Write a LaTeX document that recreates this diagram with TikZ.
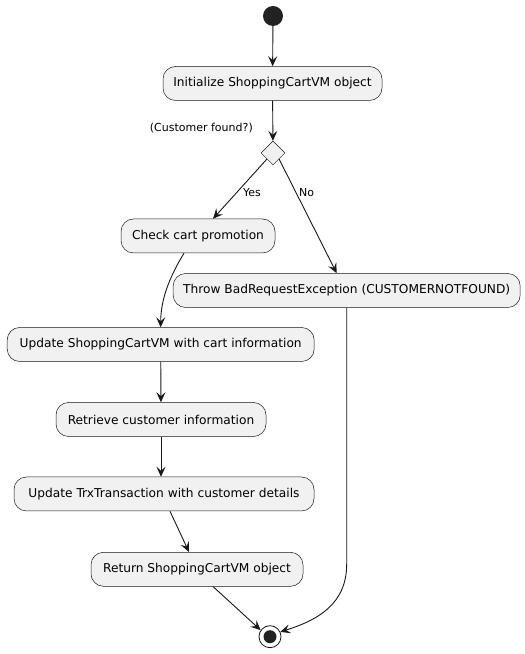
\documentclass[tikz,border=0pt]{standalone}
\usepackage{fontspec}
\setmainfont{DejaVu Sans}
\usetikzlibrary{arrows.meta,shapes.geometric,calc}
\definecolor{boxfill}{HTML}{F1F1F1}
\definecolor{boxline}{HTML}{181818}
\definecolor{dotfill}{HTML}{222222}
\tikzset{
  actbox/.style={draw=boxline,fill=boxfill,line width=0.5pt,rounded corners=12.5pt,
    minimum height=34pt,inner xsep=10pt,font=\fontsize{12.2}{14}\selectfont},
  arr/.style={draw=boxline,line width=0.9pt,-{Stealth[length=10pt,width=9pt,inset=4pt]}},
  lbl/.style={font=\fontsize{11}{13}\selectfont,inner sep=0pt}
}
\begin{document}
\begin{tikzpicture}[x=1pt,y=1pt]
\useasboundingbox (0,0) rectangle (525,654);
\node[circle,fill=dotfill,minimum size=20pt,inner sep=0pt] (start) at (273,638) {};
\node[actbox,minimum width=219pt] (init) at (272.5,570.5) {Initialize ShoppingCartVM object};
\node[diamond,draw=boxline,fill=boxfill,line width=0.5pt,minimum width=24pt,minimum height=24pt,inner sep=0pt] (dia) at (273,501) {};
\node[lbl,anchor=east] (cf) at (253,526) {(Customer found?)};
\node[actbox,minimum width=154pt] (check) at (198,418) {Check cart promotion};
\node[actbox,minimum width=347pt] (throw) at (346.7,363.5) {Throw BadRequestException (CUSTOMERNOTFOUND)};
\node[actbox,minimum width=307pt] (upd) at (160.7,309.5) {Update ShoppingCartVM with cart information};
\node[actbox,minimum width=210pt] (retr) at (161,234.5) {Retrieve customer information};
\node[actbox,minimum width=300pt] (trx) at (164,160) {Update TrxTransaction with customer details};
\node[actbox,minimum width=212pt] (ret) at (197,84.7) {Return ShoppingCartVM object};
\node[circle,draw=boxline,fill=white,line width=0.8pt,minimum size=22pt,inner sep=0pt] (endo) at (270,17.3) {};
\node[circle,fill=dotfill,minimum size=13pt,inner sep=0pt] (endi) at (endo) {};
\node[lbl,anchor=west] (yes) at (243,461) {Yes};
\node[lbl,anchor=west] (no) at (299,461) {No};
\coordinate (bend) at (346.7,90);
\draw[arr] (start) -- (init);
\draw[arr] (init) -- (dia);
\draw[arr] (dia.south west) -- ($(check.north)+(15,0)$);
\draw[arr] (dia.south east) -- ($(throw.north)+(-10,0)$);
\draw[arr] ($(check.south)+(-14,0)$) .. controls (170,378) and (160.7,355) .. (upd.north);
\draw[arr] (upd) -- (retr);
\draw[arr] (retr.south) -- (retr.south |- trx.north);
\draw[arr] ($(trx.south)+(6,0)$) -- ($(ret.north)+(-8,0)$);
\draw[arr] ($(ret.south)+(16,0)$) -- (endo.145);
\draw[arr] (throw.south) -- (bend) .. controls (346.7,50) and (318,34) .. (endo.25);
\end{tikzpicture}
\end{document}
